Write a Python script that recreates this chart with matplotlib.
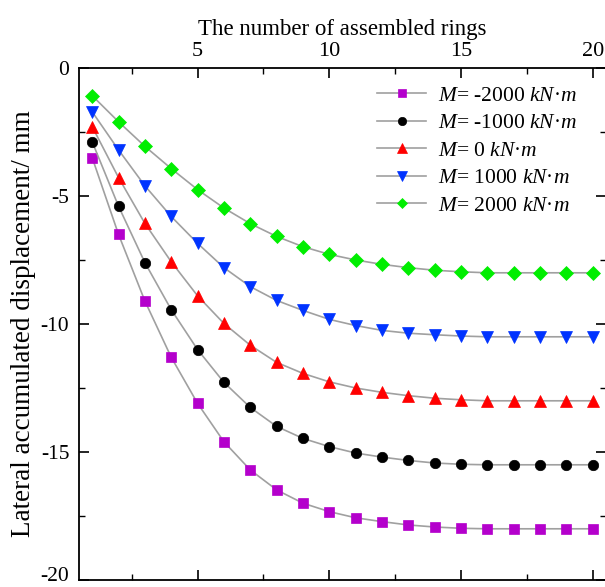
import matplotlib
matplotlib.use("Agg")
import matplotlib.pyplot as plt
import matplotlib.transforms as mtransforms
from matplotlib.ticker import MultipleLocator

plt.rcParams['font.family'] = ['Liberation Serif', 'DejaVu Serif']
plt.rcParams['mathtext.fontset'] = 'custom'
plt.rcParams['mathtext.rm'] = 'Liberation Serif'
plt.rcParams['mathtext.it'] = 'Liberation Serif:italic'
plt.rcParams['axes.unicode_minus'] = False

rings = list(range(1, 21))
m_labels = ['-2000', '-1000', '0', '1000', '2000']
disp_m2000 = [-3.5, -6.5, -9.1, -11.3, -13.1, -14.6, -15.7, -16.48, -17.0, -17.33,
              -17.57, -17.72, -17.85, -17.93, -17.98, -18.0, -18.0, -18.0, -18.0, -18.0]
disp_m1000 = [-2.88, -5.4, -7.6, -9.44, -11.0, -12.28, -13.26, -14.0, -14.47, -14.79,
              -15.04, -15.2, -15.33, -15.43, -15.48, -15.5, -15.5, -15.5, -15.5, -15.5]
disp_0 = [-2.29, -4.28, -6.07, -7.57, -8.9, -9.98, -10.83, -11.5, -11.93, -12.26,
          -12.5, -12.67, -12.8, -12.9, -12.96, -13.0, -13.0, -13.0, -13.0, -13.0]
disp_p1000 = [-1.71, -3.2, -4.6, -5.8, -6.85, -7.8, -8.54, -9.08, -9.47, -9.82,
              -10.06, -10.25, -10.36, -10.42, -10.47, -10.5, -10.5, -10.5, -10.5, -10.5]
disp_p2000 = [-1.08, -2.1, -3.06, -3.93, -4.75, -5.47, -6.08, -6.58, -6.98, -7.28,
              -7.5, -7.67, -7.8, -7.9, -7.96, -8.0, -8.0, -8.0, -8.0, -8.0]

series = [disp_m2000, disp_m1000, disp_0, disp_p1000, disp_p2000]
markers = ['s', 'o', '^', 'v', 'D']
colors = ['#B400CC', '#000000', '#FF0000', '#0033FF', '#00EE00']
msizes = [7, 7.5, 8.5, 8.5, 7]

fig = plt.figure(figsize=(6.05, 5.87), dpi=100)
ax = fig.add_axes([79/605, 1 - 580/587, (606-79)/605, (580-68)/587])

for ys, mk, c, ms, lab in zip(series, markers, colors, msizes, m_labels):
    ax.plot(rings, ys, color='#A0A0A0', lw=1.2, marker=mk, ms=ms,
            markerfacecolor=c, markeredgecolor=c, markeredgewidth=0.5,
            label=r'$\mathit{M}$= ' + lab + r' $\mathit{kN}$·$\mathit{m}$')

ax.set_xlim(0.5, 20.5)
ax.set_ylim(-20, 0)
ax.xaxis.set_major_locator(MultipleLocator(5))
ax.xaxis.set_minor_locator(MultipleLocator(2.5))
ax.yaxis.set_major_locator(MultipleLocator(5))
ax.yaxis.set_minor_locator(MultipleLocator(2.5))

ax.xaxis.tick_top()
ax.xaxis.set_label_position('top')
ax.tick_params(axis='x', which='both', direction='in', top=True, bottom=True,
               labeltop=True, labelbottom=False, labelsize=16, pad=5)
ax.tick_params(axis='x', which='major', length=7, width=1.2)
ax.tick_params(axis='x', which='minor', length=4, width=1.0)
ax.tick_params(axis='y', which='both', direction='in', left=True, right=True,
               labelsize=15.5, pad=7)
ax.tick_params(axis='y', which='major', length=7, width=1.2)
ax.tick_params(axis='y', which='minor', length=4, width=1.0)

ax.set_xlabel('The number of assembled rings', fontsize=16.5, labelpad=5)
ax.set_ylabel('Lateral accumulated displacement/ mm', fontsize=19.5, labelpad=3)
for s in ax.spines.values():
    s.set_linewidth(1.3)

leg = ax.legend(loc='upper left', bbox_to_anchor=(0.565, 0.965), frameon=False,
                fontsize=15.5, handlelength=2.3, labelspacing=0.34, handletextpad=0.55,
                borderaxespad=0.0, borderpad=0.0, markerscale=0.8)

fig.canvas.draw()
for lbl in ax.get_yticklabels():
    if lbl.get_text() == '-20':
        lbl.set_transform(lbl.get_transform() +
                          mtransforms.ScaledTranslation(0, 6/100, fig.dpi_scale_trans))

fig.savefig('out.png', dpi=100)
